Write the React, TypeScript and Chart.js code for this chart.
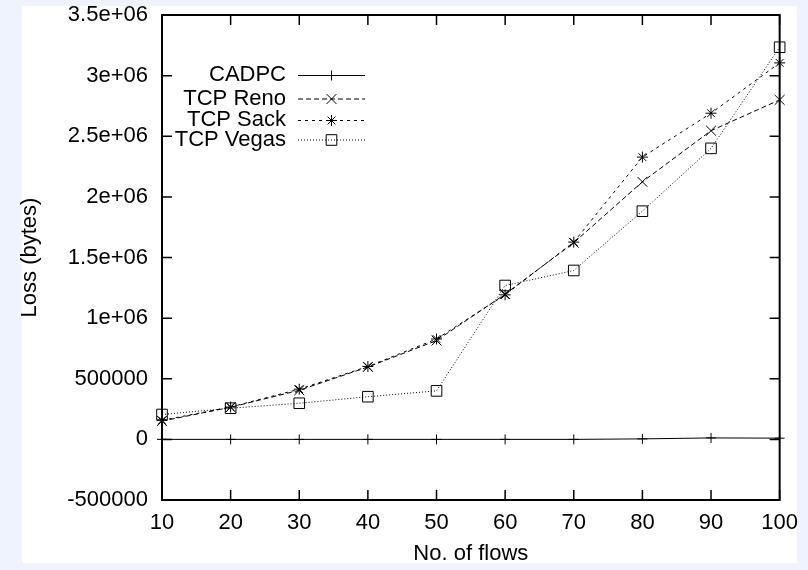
import React, { useEffect, useRef } from 'react';
import { Chart, registerables } from 'chart.js';
import { drawPoint } from 'chart.js/helpers';

Chart.register(...registerables);

// Number of flows on the x axis
const flows = [10, 20, 30, 40, 50, 60, 70, 80, 90, 100];
const xTickLabels = ['10', '20', '30', '40', '50', '60', '70', '80', '90', '100'];

// Loss axis ticks
const yTickValues = [-500000, 0, 500000, 1000000, 1500000, 2000000, 2500000, 3000000, 3500000];
const yTickLabels = ['-500000', '0', '500000', '1e+06', '1.5e+06', '2e+06', '2.5e+06', '3e+06', '3.5e+06'];

const seriesNames = ['CADPC', 'TCP Reno', 'TCP Sack', 'TCP Vegas'];

// Loss in bytes per protocol
const cadpcLoss = [0, 0, 0, 0, 0, 0, 0, 4000, 12000, 10000];
const renoLoss = [151000, 265000, 405000, 597000, 815000, 1198000, 1622000, 2124000, 2546000, 2800000];
const sackLoss = [157000, 267000, 414000, 601000, 828000, 1192000, 1627000, 2328000, 2690000, 3105000];
const vegasLoss = [205000, 257000, 298000, 352000, 400000, 1269000, 1393000, 1882000, 2400000, 3234000];

const FONT = '"Liberation Sans", Arial, Helvetica, sans-serif';
const PAGE_BG = '#eff3fd';

const backgroundPlugin = {
  id: 'pageBackground',
  beforeDraw(chart: any) {
    const { ctx, width, height } = chart;
    ctx.save();
    ctx.fillStyle = PAGE_BG;
    ctx.fillRect(0, 0, width, height);
    ctx.fillStyle = '#ffffff';
    ctx.fillRect(22, 6, 775, 557);
    ctx.restore();
  },
};

// Gnuplot-style frame: border plus inward ticks mirrored on all four sides
const framePlugin = {
  id: 'frame',
  afterDatasetsDraw(chart: any) {
    const { ctx, chartArea, scales } = chart;
    const { left, right, top, bottom } = chartArea;
    const tl = 10;
    ctx.save();
    ctx.strokeStyle = '#000';
    ctx.setLineDash([]);
    ctx.lineWidth = 1.5;
    ctx.beginPath();
    for (const t of scales.x.ticks) {
      const px = scales.x.getPixelForValue(t.value);
      ctx.moveTo(px, bottom);
      ctx.lineTo(px, bottom - tl);
      ctx.moveTo(px, top);
      ctx.lineTo(px, top + tl);
    }
    for (const t of scales.y.ticks) {
      const py = scales.y.getPixelForValue(t.value);
      ctx.moveTo(left, py);
      ctx.lineTo(left + tl, py);
      ctx.moveTo(right, py);
      ctx.lineTo(right - tl, py);
    }
    ctx.stroke();
    ctx.lineWidth = 2;
    ctx.strokeRect(left, top, right - left, bottom - top);
    ctx.restore();
  },
};

// Key in the upper left: right-aligned names followed by line and marker samples
const keyPlugin = {
  id: 'key',
  afterDatasetsDraw(chart: any) {
    const { ctx } = chart;
    const rows = [75, 98.5, 120, 139.5];
    ctx.save();
    chart.data.datasets.forEach((ds: any, i: number) => {
      const y = rows[i];
      ctx.font = `22px ${FONT}`;
      ctx.fillStyle = '#000';
      ctx.textAlign = 'right';
      ctx.textBaseline = 'middle';
      ctx.fillText(ds.label, 286, y);
      ctx.strokeStyle = ds.borderColor;
      ctx.lineWidth = ds.borderWidth;
      ctx.setLineDash(ds.borderDash || []);
      ctx.beginPath();
      ctx.moveTo(298, y + 0.5);
      ctx.lineTo(365, y + 0.5);
      ctx.stroke();
      ctx.setLineDash([]);
      ctx.fillStyle = 'rgba(0,0,0,0)';
      ctx.strokeStyle = '#000';
      ctx.lineWidth = 1;
      drawPoint(ctx, { pointStyle: ds.pointStyle, radius: ds.pointRadius, borderWidth: 1, rotation: 0 }, 331.5, y + 0.5);
    });
    ctx.restore();
  },
};

function makeSeries(label: string, values: number[], dash: number[], pointStyle: string, radius: number) {
  return {
    label,
    data: flows.map((f, i) => ({ x: f, y: values[i] })),
    borderColor: '#000',
    borderWidth: 1,
    borderDash: dash,
    backgroundColor: 'rgba(0,0,0,0)',
    pointStyle,
    pointRadius: radius,
    pointHoverRadius: radius,
    pointBorderWidth: 1,
    pointBorderColor: '#000',
    pointBackgroundColor: 'rgba(0,0,0,0)',
    tension: 0,
    fill: false,
    clip: false as any,
  };
}

export default function App() {
  const canvasRef = useRef<HTMLCanvasElement | null>(null);

  useEffect(() => {
    const canvas = canvasRef.current;
    if (!canvas) return;
    const chart = new Chart(canvas, {
      type: 'line',
      data: {
        datasets: [
          makeSeries(seriesNames[0], cadpcLoss, [], 'cross', 5),
          makeSeries(seriesNames[1], renoLoss, [5, 3], 'crossRot', 7),
          makeSeries(seriesNames[2], sackLoss, [3, 4], 'star', 5.5),
          makeSeries(seriesNames[3], vegasLoss, [1, 2], 'rect', 7.5),
        ],
      },
      options: {
        animation: false,
        responsive: false,
        devicePixelRatio: 1,
        layout: { padding: { top: 15, right: 28, bottom: 0, left: 0 } },
        plugins: {
          legend: { display: false },
          tooltip: { enabled: false },
        },
        scales: {
          x: {
            type: 'linear',
            min: 10,
            max: 100,
            afterBuildTicks: (scale: any) => {
              scale.ticks = flows.map((v) => ({ value: v }));
            },
            ticks: {
              callback: (_v: any, i: number) => xTickLabels[i],
              font: { size: 22, family: FONT },
              color: '#000',
              padding: 10,
              maxRotation: 0,
              autoSkip: false,
            },
            grid: { display: false, drawTicks: false },
            border: { display: false },
            title: {
              display: true,
              text: 'No. of flows',
              color: '#000',
              font: { size: 22, family: FONT },
              padding: { top: 0, bottom: 3 },
            },
            afterFit: (scale: any) => {
              scale.height = 70;
            },
          },
          y: {
            type: 'linear',
            min: -500000,
            max: 3500000,
            afterBuildTicks: (scale: any) => {
              scale.ticks = yTickValues.map((v) => ({ value: v }));
            },
            ticks: {
              callback: (_v: any, i: number) => yTickLabels[i],
              font: { size: 22, family: FONT },
              color: '#000',
              padding: 14,
              autoSkip: false,
            },
            grid: { display: false, drawTicks: false },
            border: { display: false },
            title: {
              display: true,
              text: 'Loss (bytes)',
              color: '#000',
              font: { size: 22, family: FONT },
              padding: { top: 17, bottom: 0 },
            },
            afterFit: (scale: any) => {
              scale.width = 162;
              scale.paddingTop = 0;
              scale.paddingBottom = 0;
            },
          },
        },
      },
      plugins: [backgroundPlugin, framePlugin, keyPlugin],
    } as any);
    return () => chart.destroy();
  }, []);

  return (
    <div style={{ position: 'absolute', left: 0, top: 0, width: 808, height: 570 }}>
      <canvas ref={canvasRef} width={808} height={570} style={{ width: 808, height: 570, display: 'block' }} />
    </div>
  );
}
